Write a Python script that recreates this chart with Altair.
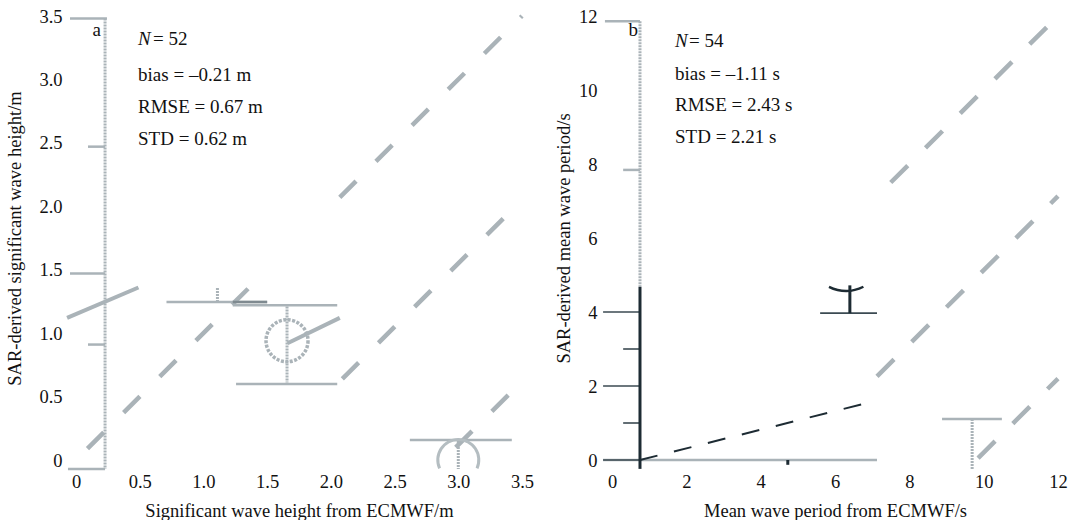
import altair as alt
import pandas as pd

FONT = "Liberation Serif"
FS = 18.5
FS_T = 19
GRAY = "#aab3b8"
GRAY_L = "#b4bdc1"
GRAY_D = "#7f8a90"
DARK = "#1d2b33"
TXT = "#111111"

# ---------------- panel a (significant wave height) ----------------
a_xticks = [0, 0.5, 1.0, 1.5, 2.0, 2.5, 3.0, 3.5]
a_yticks = [0, 0.5, 1.0, 1.5, 2.0, 2.5, 3.0, 3.5]

# dashed 1:1 style diagonals
a_diag_x1 = [0.09, 2.07, 2.09, 2.98]
a_diag_y1 = [0.09, 2.07, 0.64, 0.10]
a_diag_x2 = [1.35, 3.50, 3.50, 3.50]
a_diag_y2 = [1.35, 3.50, 2.05, 0.62]

# thick solid gray strokes
a_thick_x1 = [-0.07, 1.66]
a_thick_y1 = [1.12, 0.92]
a_thick_x2 = [0.49, 2.07]
a_thick_y2 = [1.36, 1.12]

# thin gray lines (ticks and caps)
a_thin_x1 = [-0.047, 0.094, -0.047, 0.094, -0.063, 0.71, 1.23, 1.256, 2.62]
a_thin_y1 = [3.48, 2.47, 1.47, 0.91, -0.07, 1.245, 1.22, 0.60, 0.158]
a_thin_x2 = [0.243, 0.228, 0.228, 0.228, 0.228, 1.50, 2.05, 2.05, 3.42]
a_thin_y2 = [3.48, 2.47, 1.47, 0.91, -0.07, 1.245, 1.22, 0.60, 0.158]

# darker overlap piece
a_dark_x1 = [1.23]
a_dark_y1 = [1.245]
a_dark_x2 = [1.50]
a_dark_y2 = [1.245]

# dotted vertical lines
a_dot_x1 = [0.228, 1.11, 1.656, 3.0]
a_dot_y1 = [3.48, 1.355, 1.21, 0.15]
a_dot_x2 = [0.228, 1.11, 1.656, 3.0]
a_dot_y2 = [-0.07, 1.25, 0.61, -0.07]

# circles
a_circ_x = [1.656]
a_circ_y = [0.94]
a_arc_x = [3.0]
a_arc_y = [0.0]

a_text = ["a", "bias = \u20130.21 m", "RMSE = 0.67 m", "STD = 0.62 m", "= 52"]
a_text_x = [0.196, 0.487, 0.487, 0.487, 0.604]
a_text_y = [3.34, 2.987, 2.734, 2.482, 3.27]
a_text_align = ["right", "left", "left", "left", "left"]
a_ital = ["N"]
a_ital_x = [0.487]
a_ital_y = [3.27]

# ---------------- panel b (mean wave period) ----------------
b_xticks = [0, 2, 4, 6, 8, 10, 12]
b_yticks = [0, 2, 4, 6, 8, 10, 12]

b_diag_x1 = [7.50, 7.13, 9.85]
b_diag_y1 = [7.50, 2.26, 0.05]
b_diag_x2 = [12.0, 12.0, 12.0]
b_diag_y2 = [12.0, 7.13, 2.20]

b_thin_x1 = [-0.19, 0.30, 8.88, -0.24]
b_thin_y1 = [11.86, 7.84, 1.11, 0.0]
b_thin_x2 = [0.753, 0.753, 10.49, 7.13]
b_thin_y2 = [11.86, 7.84, 1.11, 0.0]

b_dot_x1 = [0.753, 9.69]
b_dot_y1 = [11.86, 1.11]
b_dot_x2 = [0.753, 9.69]
b_dot_y2 = [4.68, -0.24]

b_blk_x1 = [0.753, 4.73, 6.40]
b_blk_y1 = [4.68, 0.0, 3.97]
b_blk_x2 = [0.753, 4.73, 6.40]
b_blk_y2 = [-0.24, -0.13, 4.72]

b_btick_x1 = [-0.24, 0.30, -0.24, 0.30, -0.24, 5.60]
b_btick_y1 = [4.0, 3.0, 2.0, 1.0, 0.0, 3.97]
b_btick_x2 = [0.753, 0.753, 0.753, 0.753, 0.753, 7.13]
b_btick_y2 = [4.0, 3.0, 2.0, 1.0, 0.0, 3.97]

b_bdash_x1 = [0.753]
b_bdash_y1 = [0.0]
b_bdash_x2 = [6.86]
b_bdash_y2 = [1.54]

b_arc_x = [6.30]
b_arc_y = [5.62]

b_text = ["b", "bias = \u20131.11 s", "RMSE = 2.43 s", "STD = 2.21 s", "= 54"]
b_text_x = [0.70, 1.695, 1.695, 1.695, 2.07]
b_text_y = [11.46, 10.27, 9.43, 8.57, 11.16]
b_text_align = ["right", "left", "left", "left", "left"]
b_ital = ["N"]
b_ital_x = [1.695]
b_ital_y = [11.16]


def seg_df(x1, y1, x2, y2):
    return pd.DataFrame({"x1": x1, "y1": y1, "x2": x2, "y2": y2})


def panel(dom, xticks, yticks, xtitle, ytitle, fmt, ylp, ytp, layers_fn):
    xs = alt.Scale(domain=dom, nice=False, zero=False)
    ys = alt.Scale(domain=dom, nice=False, zero=False)
    xa = alt.Axis(values=xticks, labelExpr=fmt, title=xtitle, domain=False,
                  ticks=False, grid=False, labelPadding=12, titlePadding=11,
                  labelFlush=False)
    ya = alt.Axis(values=yticks, labelExpr=fmt, title=ytitle, domain=False,
                  ticks=False, grid=False, labelPadding=ylp, titlePadding=ytp,
                  labelFlush=False)

    def X(f):
        return alt.X(f, type="quantitative", scale=xs, axis=xa)

    def Y(f):
        return alt.Y(f, type="quantitative", scale=ys, axis=ya)

    return alt.layer(*layers_fn(X, Y)).properties(width=446, height=444)


def rule(df, X, Y, color, width, dash=None, cap="butt"):
    kw = dict(color=color, strokeWidth=width, strokeCap=cap)
    if dash is not None:
        kw["strokeDash"] = dash
    return alt.Chart(df).mark_rule(**kw).encode(
        x=X("x1"), y=Y("y1"), x2="x2:Q", y2="y2:Q")


def texts(X, Y, txt, tx, ty, al, it, ix, iy):
    out = []
    df = pd.DataFrame({"x": tx, "y": ty, "t": txt, "al": al})
    for a in ["left", "right"]:
        sub = df[df["al"] == a]
        out.append(alt.Chart(sub).mark_text(align=a, baseline="alphabetic",
                                            font=FONT, fontSize=FS_T, color=TXT)
                   .encode(x=X("x"), y=Y("y"), text="t:N"))
    di = pd.DataFrame({"x": ix, "y": iy, "t": it})
    out.append(alt.Chart(di).mark_text(align="left", baseline="alphabetic",
                                       font=FONT, fontSize=FS_T, fontStyle="italic",
                                       color=TXT)
               .encode(x=X("x"), y=Y("y"), text="t:N"))
    return out


def layers_a(X, Y):
    L = []
    L.append(rule(seg_df(a_diag_x1, a_diag_y1, a_diag_x2, a_diag_y2), X, Y,
                  GRAY, 4.5, [23, 28]))
    L.append(rule(seg_df(a_thick_x1, a_thick_y1, a_thick_x2, a_thick_y2), X, Y,
                  GRAY, 4))
    L.append(rule(seg_df(a_thin_x1, a_thin_y1, a_thin_x2, a_thin_y2), X, Y,
                  GRAY, 2.5))
    L.append(rule(seg_df(a_dark_x1, a_dark_y1, a_dark_x2, a_dark_y2), X, Y,
                  GRAY_D, 2.5))
    L.append(rule(seg_df(a_dot_x1, a_dot_y1, a_dot_x2, a_dot_y2), X, Y,
                  GRAY, 3, [2, 1]))
    L.append(alt.Chart(pd.DataFrame({"x": a_circ_x, "y": a_circ_y}))
             .mark_point(shape="circle", filled=False, size=1764, color=GRAY,
                         strokeWidth=3.5, strokeDash=[3, 1.5], opacity=1)
             .encode(x=X("x"), y=Y("y")))
    L.append(alt.Chart(pd.DataFrame({"x": a_arc_x, "y": a_arc_y}))
             .mark_arc(radius=22, radius2=19, theta=4.29, theta2=8.27,
                       color=GRAY_L)
             .encode(x=X("x"), y=Y("y")))
    L += texts(X, Y, a_text, a_text_x, a_text_y, a_text_align,
               a_ital, a_ital_x, a_ital_y)
    return L


def layers_b(X, Y):
    L = []
    L.append(rule(seg_df(b_diag_x1, b_diag_y1, b_diag_x2, b_diag_y2), X, Y,
                  GRAY, 4.5, [24, 25]))
    L.append(rule(seg_df(b_thin_x1, b_thin_y1, b_thin_x2, b_thin_y2), X, Y,
                  GRAY, 2.5))
    L.append(rule(seg_df(b_dot_x1, b_dot_y1, b_dot_x2, b_dot_y2), X, Y,
                  GRAY, 3, [2, 1]))
    L.append(rule(seg_df(b_btick_x1, b_btick_y1, b_btick_x2, b_btick_y2), X, Y,
                  "#3b4a52", 1.6))
    L.append(rule(seg_df(b_blk_x1, b_blk_y1, b_blk_x2, b_blk_y2), X, Y,
                  DARK, 3))
    L.append(rule(seg_df(b_bdash_x1, b_bdash_y1, b_bdash_x2, b_bdash_y2), X, Y,
                  DARK, 2, [18, 17]))
    L.append(alt.Chart(pd.DataFrame({"x": b_arc_x, "y": b_arc_y}))
             .mark_arc(radius=40, radius2=37.5, theta=2.68, theta2=3.6,
                       color=DARK)
             .encode(x=X("x"), y=Y("y")))
    L += texts(X, Y, b_text, b_text_x, b_text_y, b_text_align,
               b_ital, b_ital_x, b_ital_y)
    return L


fmt_a = "datum.value == 0 ? '0' : format(datum.value, '.1f')"
fmt_b = "format(datum.value, 'd')"

pa = panel([0, 3.5], a_xticks, a_yticks, "Significant wave height from ECMWF/m",
           "SAR-derived significant wave height/m", fmt_a, 14, 14, layers_a)
pb = panel([0, 12], b_xticks, b_yticks, "Mean wave period from ECMWF/s",
           "SAR-derived mean wave period/s", fmt_b, 15, 5, layers_b)

chart = alt.hconcat(pa, pb, spacing=20).properties(
    padding={"left": 5, "top": 7, "right": 0, "bottom": 0}
).configure_view(stroke=None).configure_axis(
    labelFont=FONT, titleFont=FONT, labelFontSize=FS, titleFontSize=FS,
    labelColor=TXT, titleColor=TXT, titleFontWeight="normal"
)

chart.save("out.html", embed_options={"renderer": "svg", "actions": False})
